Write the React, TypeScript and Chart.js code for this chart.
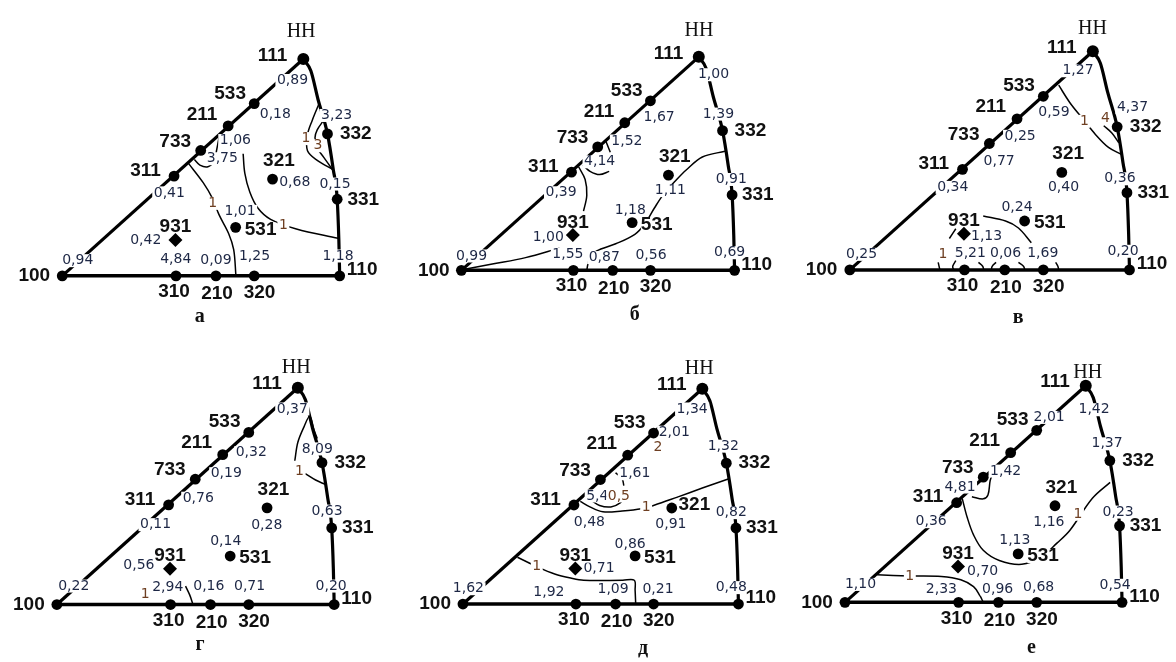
import React, { useEffect, useRef } from "react";
import { Chart, registerables } from "chart.js";
Chart.register(...registerables);

type P = [number, number];

// ---- poles (categories) in triangle coordinates: 100 at (0,0), 110 at (1,0)
const POLES = ["100", "310", "210", "320", "110", "331", "332", "111", "533", "211", "733", "311", "931", "531", "321"];
const POLE_U = [0, 0.41, 0.554, 0.692, 1, 0.991, 0.956, 0.869, 0.692, 0.598, 0.499, 0.403, 0.408, 0.625, 0.758];
const POLE_V = [0, 0, 0, 0, 0, 0.278, 0.515, 0.787, 0.625, 0.544, 0.455, 0.362, 0.13, 0.176, 0.351];

// triangle edges
const EDGE_BOTTOM = ["100", "110"];
const EDGE_LEFT = ["100", "111"];
const EDGE_RIGHT: P[] = [[0.869, 0.787], [0.896, 0.744], [0.922, 0.64], [0.956, 0.515], [0.977, 0.385], [0.991, 0.278], [0.997, 0.13], [1, 0]];

// ---- series values (same order as POLES)
const VALUES_A = [0.94, 4.84, 0.09, 1.25, 1.18, 0.15, 3.23, 0.89, 0.18, 1.06, 3.75, 0.41, 0.42, 1.01, 0.68];
const VALUES_B = [0.99, 1.55, 0.87, 0.56, 0.69, 0.91, 1.39, 1.0, 1.67, 1.52, 4.14, 0.39, 1.0, 1.18, 1.11];
const VALUES_C = [0.25, 5.21, 0.06, 1.69, 0.2, 0.36, 4.37, 1.27, 0.59, 0.25, 0.77, 0.34, 1.13, 0.24, 0.4];
const VALUES_D = [0.22, 2.94, 0.16, 0.71, 0.2, 0.63, 8.09, 0.37, 0.32, 0.19, 0.76, 0.11, 0.56, 0.14, 0.28];
const VALUES_E = [1.62, 1.92, 1.09, 0.21, 0.48, 0.82, 1.32, 1.34, 2.01, 1.61, 5.4, 0.48, 0.71, 0.86, 0.91];
const VALUES_F = [1.1, 2.33, 0.96, 0.68, 0.54, 0.23, 1.37, 1.42, 2.01, 1.42, 4.81, 0.36, 0.7, 1.13, 1.16];

// ---- isolines, per panel
const CONTOURS_A: P[][] = [
  [[0.455, 0.408], [0.508, 0.338], [0.542, 0.28], [0.565, 0.222], [0.6, 0.153], [0.618, 0.095], [0.626, 0.0]],
  [[0.476, 0.422], [0.496, 0.402], [0.525, 0.396], [0.548, 0.417], [0.556, 0.454], [0.568, 0.518]],
  [[0.652, 0.443], [0.658, 0.373], [0.676, 0.304], [0.705, 0.246], [0.751, 0.205], [0.844, 0.17], [0.994, 0.136]],
  [[0.927, 0.628], [0.901, 0.564], [0.884, 0.512], [0.884, 0.454], [0.919, 0.419], [0.977, 0.385]],
  [[0.942, 0.564], [0.919, 0.53], [0.911, 0.501], [0.922, 0.46], [0.942, 0.431], [0.973, 0.387]],
];
const CONTOURS_B: P[][] = [
  [[0.459, 0], [0.468, 0.041], [0.494, 0.071], [0.565, 0.098], [0.635, 0.133], [0.671, 0.171], [0.706, 0.229], [0.741, 0.282], [0.788, 0.335], [0.824, 0.371], [0.882, 0.418], [0.965, 0.439]],
  [[0.012, 0.004], [0.118, 0.024], [0.235, 0.047], [0.359, 0.082]],
  [[0.429, 0.382], [0.453, 0.335], [0.459, 0.276], [0.447, 0.218]],
  [[0.445, 0.388], [0.471, 0.365], [0.506, 0.353], [0.541, 0.365]],
  [[0.529, 0.476], [0.545, 0.435]],
];
const CONTOURS_C: P[][] = [
  [[0.747, 0.665], [0.787, 0.602], [0.833, 0.544], [0.879, 0.487], [0.925, 0.441], [0.971, 0.416]],
  [[0.908, 0.519], [0.937, 0.493], [0.962, 0.458]],
  [[0.477, 0.194], [0.557, 0.176], [0.603, 0.151], [0.649, 0.098]],
  [[0.379, 0.148], [0.356, 0.113]],
  [[0.316, 0.027], [0.322, 0]],
  [[0.379, 0.033], [0.368, 0.013], [0.371, 0]],
  [[0.46, 0.027], [0.475, 0.013], [0.479, 0]],
  [[0.523, 0.027], [0.509, 0.013], [0.506, 0]],
  [[0.603, 0.027], [0.621, 0.013], [0.626, 0]],
  [[0.736, 0.027], [0.744, 0.013], [0.747, 0]],
];
const CONTOURS_D: P[][] = [
  [[0.858, 0.522], [0.869, 0.589], [0.892, 0.647], [0.912, 0.684], [0.927, 0.635], [0.939, 0.603]],
  [[0.896, 0.475], [0.933, 0.452], [0.968, 0.436]],
  [[0.464, 0.067], [0.479, 0.035], [0.49, 0.003]],
];
const CONTOURS_E: P[][] = [
  [[0.426, 0.375], [0.461, 0.355], [0.508, 0.337], [0.578, 0.34], [0.648, 0.348], [0.694, 0.361], [0.776, 0.39], [0.869, 0.424], [0.963, 0.457]],
  [[0.467, 0.378], [0.496, 0.36], [0.537, 0.355], [0.572, 0.371], [0.592, 0.398]],
  [[0.554, 0.48], [0.578, 0.457], [0.584, 0.433]],
  [[0.198, 0.171], [0.274, 0.134], [0.333, 0.11], [0.391, 0.095], [0.438, 0.087], [0.58, 0.087], [0.622, 0.087], [0.625, 0.05], [0.627, 0.002]],
];
const CONTOURS_F: P[][] = [
  [[0.423, 0.378], [0.441, 0.309], [0.464, 0.245], [0.499, 0.189], [0.557, 0.152], [0.638, 0.138], [0.708, 0.164], [0.766, 0.216], [0.812, 0.262], [0.893, 0.378], [0.957, 0.436]],
  [[0.458, 0.384], [0.499, 0.376], [0.516, 0.39], [0.524, 0.442], [0.534, 0.471]],
  [[0.116, 0.1], [0.232, 0.096], [0.348, 0.094], [0.418, 0.082], [0.464, 0.057], [0.487, 0.024], [0.499, 0]],
];

const ISO_TEXT_A = ["1", "1", "1", "3"];
const ISO_TEXT_B: string[] = [];
const ISO_TEXT_C = ["1", "4", "1"];
const ISO_TEXT_D = ["1", "1"];
const ISO_TEXT_E = ["1", "0,5", "2", "1"];
const ISO_TEXT_F = ["1", "1"];

const PANEL_LETTERS = ["а", "б", "в", "г", "д", "е"];
const DIRECTION_LABEL = "НН";

// ---- layout (positions of text, panel placement) kept apart from data
const POLE_LABEL_POS: P[] = [[-0.101, 0], [0.403, -0.058], [0.558, -0.066], [0.711, -0.062], [1.081, 0.022], [1.085, 0.277], [1.058, 0.516], [0.758, 0.8], [0.605, 0.662], [0.504, 0.586], [0.407, 0.488], [0.3, 0.382], [0.408, 0.177], [0.715, 0.168], [0.781, 0.417]];

const VALUE_POS_A: P[] = [[0.056, 0.055], [0.409, 0.06], [0.554, 0.055], [0.693, 0.072], [0.994, 0.072], [0.983, 0.333], [0.989, 0.582], [0.83, 0.709], [0.768, 0.587], [0.624, 0.491], [0.577, 0.425], [0.386, 0.301], [0.301, 0.13], [0.641, 0.234], [0.838, 0.341]];
const VALUE_POS_B: P[] = [[0.037, 0.053], [0.39, 0.059], [0.523, 0.047], [0.694, 0.055], [0.982, 0.065], [0.988, 0.335], [0.941, 0.576], [0.923, 0.721], [0.724, 0.565], [0.606, 0.477], [0.506, 0.4], [0.365, 0.286], [0.318, 0.121], [0.618, 0.223], [0.765, 0.294]];
const VALUE_POS_C: P[] = [[0.042, 0.056], [0.431, 0.059], [0.557, 0.059], [0.69, 0.059], [0.977, 0.067], [0.966, 0.328], [1.011, 0.584], [0.816, 0.717], [0.73, 0.567], [0.609, 0.481], [0.534, 0.389], [0.368, 0.297], [0.489, 0.121], [0.598, 0.225], [0.764, 0.297]];
const VALUE_POS_D: P[] = [[0.061, 0.067], [0.4, 0.061], [0.548, 0.067], [0.695, 0.067], [0.989, 0.067], [0.974, 0.339], [0.939, 0.565], [0.849, 0.71], [0.701, 0.551], [0.611, 0.475], [0.51, 0.386], [0.356, 0.29], [0.296, 0.143], [0.609, 0.229], [0.757, 0.287]];
const VALUE_POS_E: P[] = [[0.02, 0.056], [0.312, 0.042], [0.545, 0.054], [0.708, 0.054], [0.974, 0.06], [0.974, 0.334], [0.945, 0.577], [0.832, 0.713], [0.767, 0.628], [0.624, 0.476], [0.504, 0.395], [0.459, 0.299], [0.494, 0.13], [0.607, 0.217], [0.755, 0.29]];
const VALUE_POS_F: P[] = [[0.056, 0.065], [0.348, 0.048], [0.551, 0.048], [0.699, 0.053], [0.975, 0.062], [0.986, 0.328], [0.946, 0.576], [0.899, 0.7], [0.737, 0.672], [0.58, 0.477], [0.415, 0.419], [0.311, 0.293], [0.497, 0.111], [0.613, 0.227], [0.736, 0.292]];

const ISO_POS_A: P[] = [[0.542, 0.263], [0.797, 0.182], [0.878, 0.498], [0.922, 0.472]];
const ISO_POS_B: P[] = [];
const ISO_POS_C: P[] = [[0.839, 0.535], [0.914, 0.547], [0.333, 0.056]];
const ISO_POS_D: P[] = [[0.875, 0.484], [0.319, 0.038]];
const ISO_POS_E: P[] = [[0.665, 0.352], [0.566, 0.395], [0.708, 0.573], [0.268, 0.138]];
const ISO_POS_F: P[] = [[0.841, 0.32], [0.234, 0.096]];

const HH_POS: P[] = [[0.861, 0.885], [0.87, 0.882], [0.868, 0.868], [0.863, 0.861], [0.858, 0.859], [0.876, 0.836]];
const LETTER_POS: P[] = [[0.496, -0.148], [0.635, -0.165], [0.602, -0.174], [0.516, -0.147], [0.654, -0.162], [0.673, -0.167]];
const POLE_LABEL_OVERRIDE: Record<number, Record<string, P>> = { 4: { "321": [0.84, 0.363] } };

const CELL_W = 392;
const CELL_H = 331;
// origin of the 100 pole inside each cell (px) and px per triangle unit
const PANEL_OX = [57.3, 64.7, 61, 51.7, 66.3, 56];
const PANEL_OY = [280.7, 275, 274.5, 278.3, 277.8, 276];
const PANEL_W = [287.7, 283.3, 290, 287.6, 285.7, 287.3];

const VALUES = [VALUES_A, VALUES_B, VALUES_C, VALUES_D, VALUES_E, VALUES_F];
const VALUE_POS = [VALUE_POS_A, VALUE_POS_B, VALUE_POS_C, VALUE_POS_D, VALUE_POS_E, VALUE_POS_F];
const CONTOURS = [CONTOURS_A, CONTOURS_B, CONTOURS_C, CONTOURS_D, CONTOURS_E, CONTOURS_F];
const ISO_TEXT = [ISO_TEXT_A, ISO_TEXT_B, ISO_TEXT_C, ISO_TEXT_D, ISO_TEXT_E, ISO_TEXT_F];
const ISO_POS = [ISO_POS_A, ISO_POS_B, ISO_POS_C, ISO_POS_D, ISO_POS_E, ISO_POS_F];

const fmt = (v: number) => v.toFixed(2).replace(".", ",");

function Panel({ k }: { k: number }) {
  const ref = useRef<HTMLCanvasElement>(null);
  useEffect(() => {
    const canvas = ref.current!;
    const ox = PANEL_OX[k], oy = PANEL_OY[k], w = PANEL_W[k];
    const pole = (name: string) => {
      const i = POLES.indexOf(name);
      return { x: POLE_U[i], y: POLE_V[i] };
    };
    const pt = (p: P) => ({ x: p[0], y: p[1] });
    const line = (data: any[], width: number, tension: number, extra: any = {}) => ({
      data,
      showLine: true,
      borderColor: "#000",
      backgroundColor: "#000",
      borderWidth: width,
      pointRadius: 0,
      pointHoverRadius: 0,
      tension,
      fill: false,
      order: 1,
      ...extra,
    });
    const datasets: any[] = [
      line(EDGE_BOTTOM.map(pole), 3.5, 0),
      line(EDGE_LEFT.map(pole), 3.2, 0),
      line(EDGE_RIGHT.map(pt), 3.2, 0, { cubicInterpolationMode: "monotone" }),
      ...CONTOURS[k].map((c) => line(c.map(pt), 1.5, 0.35)),
      {
        data: POLES.map((_, i) => ({ x: POLE_U[i], y: POLE_V[i] })),
        showLine: false,
        pointRadius: POLES.map((p) => (p === "111" ? 6 : p === "931" ? 7 : 5.4)),
        pointStyle: POLES.map((p) => (p === "931" ? "rectRot" : "circle")),
        pointBackgroundColor: "#000",
        pointBorderColor: "#000",
        pointBorderWidth: 0,
        order: 0,
      },
    ];
    const poleIdx = datasets.length - 1;

    const labels = {
      id: "panelLabels",
      beforeDatasetDraw(chart: any, args: any) {
        if (args.index !== poleIdx) return;
        const ctx = chart.ctx as CanvasRenderingContext2D;
        const sx = chart.scales.x, sy = chart.scales.y;
        const text = (s: string, p: P, font: string, color: string, pad: number, h: number) => {
          ctx.font = font;
          ctx.textAlign = "center";
          ctx.textBaseline = "middle";
          const x = sx.getPixelForValue(p[0]);
          const y = sy.getPixelForValue(p[1]);
          if (pad >= 0) {
            const tw = ctx.measureText(s).width;
            ctx.fillStyle = "#fff";
            ctx.fillRect(x - tw / 2 - pad, y - h / 2, tw + 2 * pad, h);
          }
          ctx.fillStyle = color;
          ctx.fillText(s, x, y);
        };
        ctx.save();
        VALUES[k].forEach((v, i) => text(fmt(v), VALUE_POS[k][i], "14px 'DejaVu Sans'", "#1d2745", 1.5, 13));
        ISO_TEXT[k].forEach((s, i) => text(s, ISO_POS[k][i], "14px 'DejaVu Sans'", "#6e3f22", 1.5, 13));
        POLES.forEach((name, i) => {
          const ov = POLE_LABEL_OVERRIDE[k] && POLE_LABEL_OVERRIDE[k][name];
          text(name, ov || POLE_LABEL_POS[i], "bold 19px 'Liberation Sans'", "#111", 0, 14);
        });
        text(DIRECTION_LABEL, HH_POS[k], "20px 'Liberation Serif'", "#111", -1, 0);
        text(PANEL_LETTERS[k], LETTER_POS[k], "bold 20px 'Liberation Serif'", "#111", -1, 0);
        ctx.restore();
      },
    };

    const chart = new Chart(canvas, {
      type: "scatter",
      data: { datasets },
      options: {
        animation: false,
        responsive: false,
        maintainAspectRatio: false,
        events: [],
        layout: { padding: 0 },
        plugins: { legend: { display: false }, tooltip: { enabled: false } },
        scales: {
          x: { type: "linear", display: false, min: -ox / w, max: (CELL_W - ox) / w },
          y: { type: "linear", display: false, min: (oy - CELL_H) / w, max: oy / w },
        },
      },
      plugins: [labels],
    } as any);
    return () => chart.destroy();
  }, [k]);
  const col = k % 3, row = Math.floor(k / 3);
  return (
    <canvas
      ref={ref}
      width={CELL_W}
      height={CELL_H}
      style={{ position: "absolute", left: col * CELL_W, top: row * CELL_H, width: CELL_W, height: CELL_H }}
    />
  );
}

export default function App() {
  return (
    <div style={{ position: "fixed", left: 0, top: 0, width: 1176, height: 662, background: "#fff", overflow: "hidden" }}>
      {[0, 1, 2, 3, 4, 5].map((k) => (
        <Panel key={k} k={k} />
      ))}
    </div>
  );
}
